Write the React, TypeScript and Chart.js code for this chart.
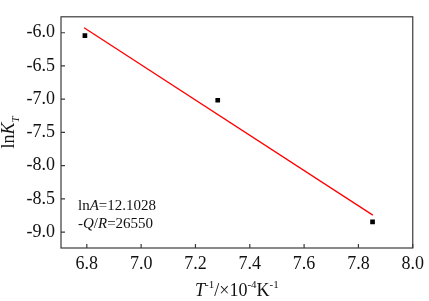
import React, { useEffect, useRef } from "react";
import { Chart, registerables } from "chart.js";

Chart.register(...registerables);

const pointsX = [6.793, 7.282, 7.852];
const pointsY = [-6.043, -7.016, -8.848];
const fitX = [6.79, 7.853];
const fitY = [-5.925, -8.745];
const xTicks = [6.8, 7.0, 7.2, 7.4, 7.6, 7.8, 8.0];
const yTicks = [-9.0, -8.5, -8.0, -7.5, -7.0, -6.5, -6.0];
const xRange = [6.705, 8.0];
const yRange = [-9.24, -5.76];
const annotLine1 = [
  { t: "ln" },
  { t: "A", i: true },
  { t: "=12.1028" },
];
const annotLine2 = [
  { t: "-" },
  { t: "Q", i: true },
  { t: "/" },
  { t: "R", i: true },
  { t: "=26550" },
];
const xTitle = [
  { t: "T", i: true },
  { t: "-1", sup: true },
  { t: "/×10" },
  { t: "-4", sup: true },
  { t: "K" },
  { t: "-1", sup: true },
];
const yTitle = [
  { t: "ln" },
  { t: "K", i: true },
  { t: "T", i: true, sub: true },
];

const FONT = '"Liberation Serif", "Times New Roman", serif';

type Seg = { t: string; i?: boolean; sup?: boolean; sub?: boolean };

function segFont(s: Seg, size: number) {
  const sz = s.sup || s.sub ? Math.round(size * 0.6) : size;
  return `${s.i ? "italic " : ""}${sz}px ${FONT}`;
}

function drawRich(
  ctx: CanvasRenderingContext2D,
  segs: Seg[],
  x: number,
  y: number,
  size: number,
  align: "left" | "center"
) {
  ctx.save();
  ctx.textBaseline = "alphabetic";
  ctx.textAlign = "left";
  let total = 0;
  const widths = segs.map((s) => {
    ctx.font = segFont(s, size);
    const w = ctx.measureText(s.t).width;
    total += w;
    return w;
  });
  let cx = align === "center" ? x - total / 2 : x;
  segs.forEach((s, k) => {
    ctx.font = segFont(s, size);
    let dy = 0;
    if (s.sup) dy = -size * 0.42;
    if (s.sub) dy = size * 0.25;
    ctx.fillText(s.t, cx, y + dy);
    cx += widths[k];
  });
  ctx.restore();
}

const decorPlugin = {
  id: "decor",
  afterDraw(chart: any) {
    const { ctx, chartArea } = chart;
    const { left, right, top, bottom } = chartArea;
    const xs = chart.scales.x;
    const ys = chart.scales.y;
    ctx.save();
    ctx.strokeStyle = "#3a3a3a";
    ctx.lineWidth = 1.2;
    ctx.strokeRect(left, top, right - left, bottom - top);
    ctx.beginPath();
    xTicks.forEach((v) => {
      const px = xs.getPixelForValue(v);
      ctx.moveTo(px, bottom);
      ctx.lineTo(px, bottom - 4);
    });
    yTicks.forEach((v) => {
      const py = ys.getPixelForValue(v);
      ctx.moveTo(left, py);
      ctx.lineTo(left + 4, py);
    });
    ctx.stroke();
    ctx.fillStyle = "#111";
    drawRich(ctx, xTitle, (left + right) / 2, 296, 18, "center");
    ctx.save();
    ctx.translate(14, (top + bottom) / 2);
    ctx.rotate(-Math.PI / 2);
    drawRich(ctx, yTitle, 0, 0, 18, "center");
    ctx.restore();
    drawRich(ctx, annotLine1, left + 17, 210, 15, "left");
    drawRich(ctx, annotLine2, left + 17, 228, 15, "left");
    ctx.restore();
  },
};

export default function App() {
  const ref = useRef<HTMLCanvasElement>(null);
  useEffect(() => {
    document.body.style.margin = "0";
    const chart = new Chart(ref.current as HTMLCanvasElement, {
      type: "scatter",
      data: {
        datasets: [
          {
            type: "line",
            data: fitX.map((x, k) => ({ x, y: fitY[k] })),
            borderColor: "#ff0000",
            borderWidth: 1.3,
            pointRadius: 0,
            fill: false,
          } as any,
          {
            type: "scatter",
            data: pointsX.map((x, k) => ({ x, y: pointsY[k] })),
            backgroundColor: "#000",
            borderColor: "#000",
            pointStyle: "rect",
            pointRadius: 3.3,
            borderWidth: 0,
          },
        ],
      },
      options: {
        animation: false,
        responsive: false,
        layout: { padding: { top: 2, right: 14, left: 0, bottom: 0 } },
        plugins: { legend: { display: false }, tooltip: { enabled: false } },
        scales: {
          x: {
            type: "linear",
            min: xRange[0],
            max: xRange[1],
            grid: { display: false, drawTicks: false },
            border: { display: false },
            afterBuildTicks: (s: any) => {
              s.ticks = xTicks.map((v) => ({ value: v }));
            },
            afterFit: (s: any) => {
              s.height = 53;
            },
            ticks: {
              padding: 5,
              color: "#111",
              font: { family: FONT, size: 18 },
              callback: (v: any) => Number(v).toFixed(1),
            },
          },
          y: {
            type: "linear",
            min: yRange[0],
            max: yRange[1],
            grid: { display: false, drawTicks: false },
            border: { display: false },
            afterBuildTicks: (s: any) => {
              s.ticks = yTicks.map((v) => ({ value: v }));
            },
            afterFit: (s: any) => {
              s.width = 61;
            },
            ticks: {
              padding: 6,
              color: "#111",
              font: { family: FONT, size: 18 },
              callback: (v: any) => Number(v).toFixed(1),
            },
          },
        },
      },
      plugins: [decorPlugin],
    } as any);
    return () => chart.destroy();
  }, []);
  return (
    <div style={{ width: 429, height: 301 }}>
      <canvas ref={ref} width={429} height={301} />
    </div>
  );
}
